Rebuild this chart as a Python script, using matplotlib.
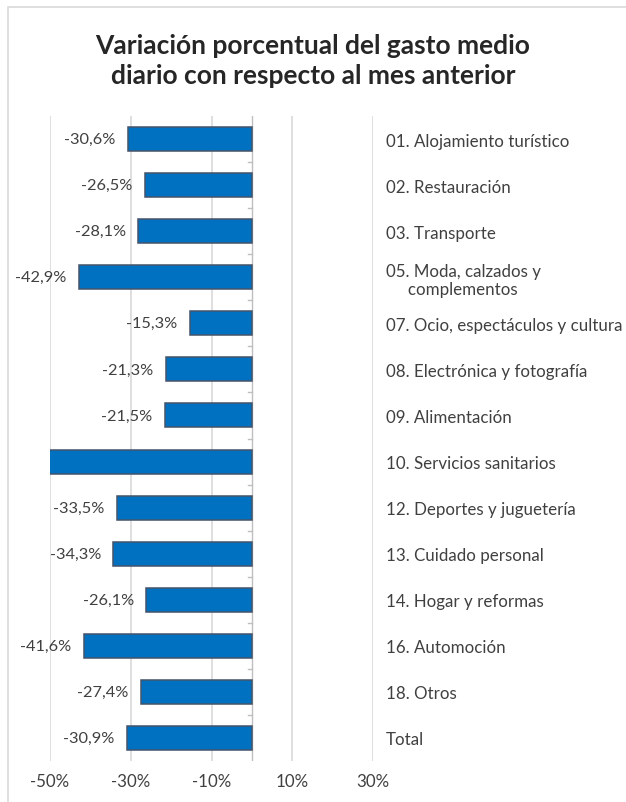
import numpy as np
import matplotlib
matplotlib.use("Agg")
from matplotlib import pyplot as plt
from matplotlib.patches import Rectangle

plt.rcParams['font.family'] = ['Lato', 'DejaVu Sans']

# datos
categorias = ["01. Alojamiento turístico", "02. Restauración", "03. Transporte",
              "05. Moda, calzados y\n     complementos",
              "07. Ocio, espectáculos y cultura", "08. Electrónica y fotografía",
              "09. Alimentación", "10. Servicios sanitarios",
              "12. Deportes y juguetería", "13. Cuidado personal",
              "14. Hogar y reformas", "16. Automoción", "18. Otros", "Total"]
variacion = [-30.6, -26.5, -28.1, -42.9, -15.3, -21.3, -21.5, -58.0,
             -33.5, -34.3, -26.1, -41.6, -27.4, -30.9]
xticks = [-50, -30, -10, 10, 30]

W, H = 626, 803
fig = plt.figure(figsize=(W / 100, H / 100), dpi=100)
ax = fig.add_axes([50 / W, 1 - 762 / H, (373 - 50) / W, (762 - 117) / H])

y = np.arange(len(categorias))
ax.barh(y, variacion, height=0.52, color='#0070C0', edgecolor='#44546A',
        linewidth=1.1, zorder=3)
ax.set_xlim(-50, 30)
ax.set_ylim(len(categorias) - 0.5, -0.5)

# etiquetas de datos (las que caen fuera del eje no se muestran)
for yi, v in zip(y, variacion):
    if v < -50:
        continue
    ax.annotate(f"{v:.1f}%".replace('.', ','), (v, yi), xytext=(-9, 0),
                textcoords='offset points', ha='right', va='center',
                fontsize=11.8, color='#404040')

ax.set_xticks(xticks)
ax.set_xticklabels([f"{t}%" for t in xticks], fontsize=12.2, color='#404040')
ax.tick_params(axis='x', length=0, pad=9)
ax.xaxis.grid(True, color='#D9D9D9', linewidth=1.2, zorder=0)

# categorias a la derecha
ax.yaxis.tick_right()
ax.set_yticks(y)
ax.set_yticklabels(categorias, fontsize=12.2, color='#404040', ha='left')
ax.tick_params(axis='y', length=0, pad=9)

for s in ax.spines.values():
    s.set_visible(False)

# eje vertical en cero con marcas entre categorias
ax.axvline(0, color='#BFBFBF', linewidth=1, zorder=2)
for b in np.arange(0.5, len(categorias) - 0.5, 1.0):
    ax.plot([-1, 0], [b, b], color='#BFBFBF', linewidth=1, zorder=2)

fig.text(0.5, 1 - 61 / H, "Variación porcentual del gasto medio\ndiario con respecto al mes anterior",
         ha='center', va='center', fontsize=19, fontweight='bold',
         color='#262626', linespacing=1.32)

fig.patches.append(Rectangle((8 / W, -0.01), 1.0, 1 - 8 / H + 0.01,
                             transform=fig.transFigure, fill=False,
                             edgecolor='#D9D9D9', linewidth=1.2))

fig.savefig("out.png", dpi=100, facecolor='white')
